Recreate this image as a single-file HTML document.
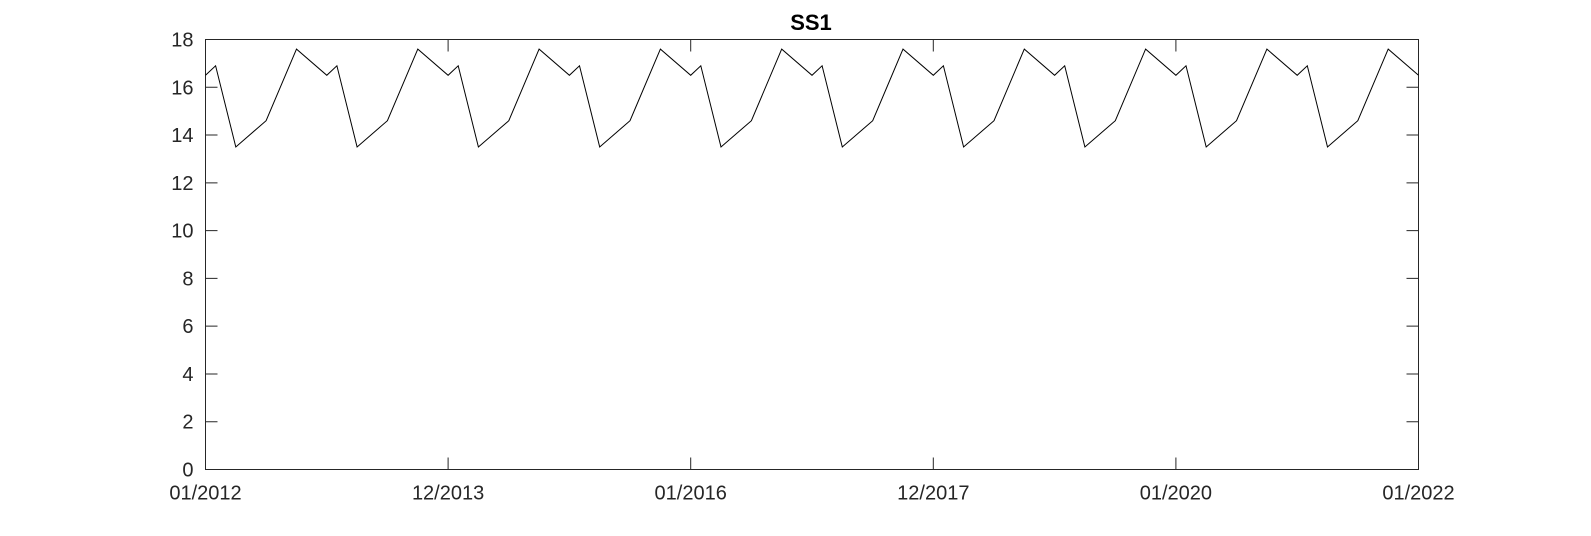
<!DOCTYPE html>
<html><head><meta charset="utf-8"><style>
body{margin:0;background:#fff;}
svg{display:block;font-family:"Liberation Sans",Arial,sans-serif;}
</style></head><body>
<svg id="chart" width="1591" height="536">
<text x="811" y="30" text-anchor="middle" font-size="22" font-weight="bold">SS1</text>
<rect x="205.5" y="39.5" width="1213" height="430" fill="none" stroke="#262626" stroke-width="1"/>
<g id="yaxis"></g>
<g id="xaxis"></g>
<path id="line" fill="none" stroke="#000" stroke-width="1"/>
</svg>
<script>
const yTicks=[0,2,4,6,8,10,12,14,16,18];
const xTickMonths=[0,24,48,72,96,120];
const xTickLabels=["01/2012","12/2013","01/2016","12/2017","01/2020","01/2022"];
const seasonMonths=[0,1,3,6,9];
const seasonValues=[16.5,16.9,13.5,14.6,17.6];
const nYears=10;
const X0=205.5,X1=1418.5,Y0=469.5,Y1=39.5;
const xs=m=>X0+(m/120)*(X1-X0);
const ys=v=>Y0-(v/18)*(Y0-Y1);
const NS="http://www.w3.org/2000/svg";
const ya=document.getElementById('yaxis'),xa=document.getElementById('xaxis');
yTicks.forEach(v=>{
 const y=ys(v);
 const l=document.createElementNS(NS,'path');
 l.setAttribute('d',`M${X0} ${y}h12M${X1} ${y}h-12`);l.setAttribute('stroke','#262626');
 
 
 ya.appendChild(l);
 const t=document.createElementNS(NS,'text');
 t.setAttribute('x',X0-12);t.setAttribute('y',y+7);t.setAttribute('text-anchor','end');t.setAttribute('font-size','20');t.setAttribute('fill','#262626');
 t.textContent=v;
 
 
 ya.appendChild(t);
});
xTickMonths.forEach((m,i)=>{
 const x=xs(m);
 const l=document.createElementNS(NS,'path');
 l.setAttribute('d',`M${x} ${Y0}v-12M${x} ${Y1}v12`);l.setAttribute('stroke','#262626');
 
 
 xa.appendChild(l);
 const t=document.createElementNS(NS,'text');
 t.setAttribute('x',x);t.setAttribute('y',Y0+30);t.setAttribute('text-anchor','middle');t.setAttribute('font-size','20');t.setAttribute('fill','#262626');
 t.textContent=xTickLabels[i];
 
 
 xa.appendChild(t);
});
let d='';
for(let yr=0;yr<nYears;yr++){
 seasonMonths.forEach((m,j)=>{const mm=yr*12+m;d+=(d?'L':'M')+xs(mm).toFixed(1)+' '+ys(seasonValues[j]).toFixed(1);});
}
d+='L'+xs(120).toFixed(1)+' '+ys(seasonValues[0]).toFixed(1);
document.getElementById('line').setAttribute('d',d);
</script>
</body></html>
